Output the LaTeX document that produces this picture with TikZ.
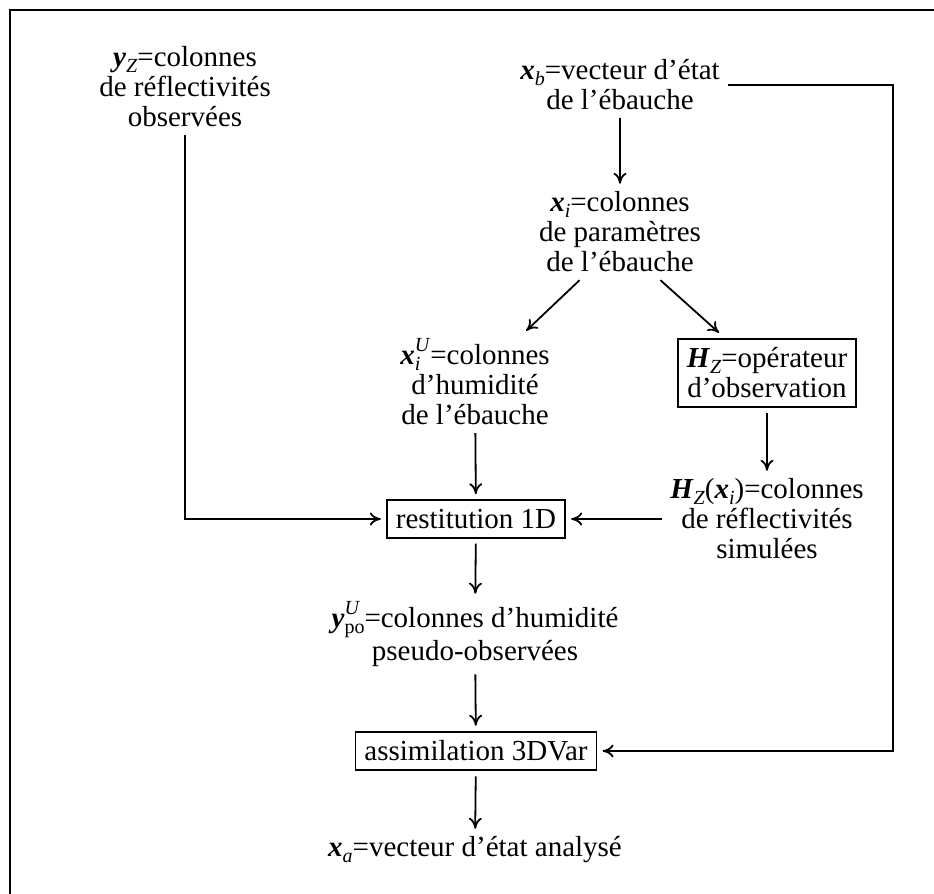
\documentclass[tikz,border=0pt]{standalone}
\usepackage{fontspec}
\setmainfont{Liberation Serif}
\usetikzlibrary{arrows.meta}
\newcommand{\bv}[1]{\textbf{\textit{#1}}}
\newcommand{\sbs}[1]{\raisebox{-0.2em}{\fontsize{10}{10}\selectfont #1}}
\newcommand{\sps}[1]{\raisebox{0.45em}{\fontsize{10}{10}\selectfont #1}}

\begin{document}
\begin{tikzpicture}[x=0.5pt, y=-0.5pt,
  txt/.style={align=center, inner sep=2pt, outer sep=2pt, font=\fontsize{14.5}{15}\selectfont},
  box/.style={txt, draw, line width=0.9pt, inner sep=4.5pt, outer sep=3pt},
  arrow/.style={-{To[length=5.5pt,width=6.5pt]}, line width=0.9pt}
]
\useasboundingbox (0,0) rectangle (934,894);
\draw[line width=1pt] (10,894) -- (10,10) -- (934,10);

\node[txt] (yz) at (185,87) {\bv{y}\sbs{\textit{Z}}=colonnes\\de réflectivités\\observées};
\node[txt] (xb) at (620,85) {\bv{x}\sbs{\textit{b}}=vecteur d’état\\de l’ébauche};
\node[txt] (xi) at (620,232) {\bv{x}\sbs{\textit{i}}=colonnes\\de paramètres\\de l’ébauche};
\node[txt] (xiu) at (475,382) {\bv{x}\rlap{\sbs{\textit{i}}}\sps{\textit{U}}=colonnes\\d’humidité\\de l’ébauche};
\node[box] (hz) at (767,373) {\bv{H}\sbs{\textit{Z}}=opérateur\\d’observation};
\node[txt] (hzx) at (767,519) {\bv{H}\sbs{\textit{Z}}(\bv{x}\sbs{\textit{i}})=colonnes\\de réflectivités\\simulées};
\node[box] (rest) at (476,519) {restitution 1D};
\node[txt] (ypo) at (475,634) {\bv{y}\rlap{\sps{\textit{U}}}\sbs{po}=colonnes d’humidité\\pseudo-observées};
\node[box] (assim) at (476,751) {assimilation 3DVar};
\node[txt] (xa) at (475,850) {\bv{x}\sbs{\textit{a}}=vecteur d’état analysé};
\coordinate (fb) at (893,85);

\draw[arrow] (xb) -- (xi);
\draw[arrow] (xi.230) -- (xiu.45);
\draw[arrow] (xi.310) -- (hz.140);
\draw[arrow] (hz) -- (hzx);
\draw[arrow] (xiu) -- (rest);
\draw[arrow] (yz) |- (rest);
\draw[arrow] (hzx) -- (rest);
\draw[arrow] (rest) -- (ypo);
\draw[arrow] (ypo) -- (assim);
\draw[arrow] (xb.east) -- (fb) |- (assim.east);
\draw[arrow] (assim) -- (xa);

\end{tikzpicture}
\end{document}
